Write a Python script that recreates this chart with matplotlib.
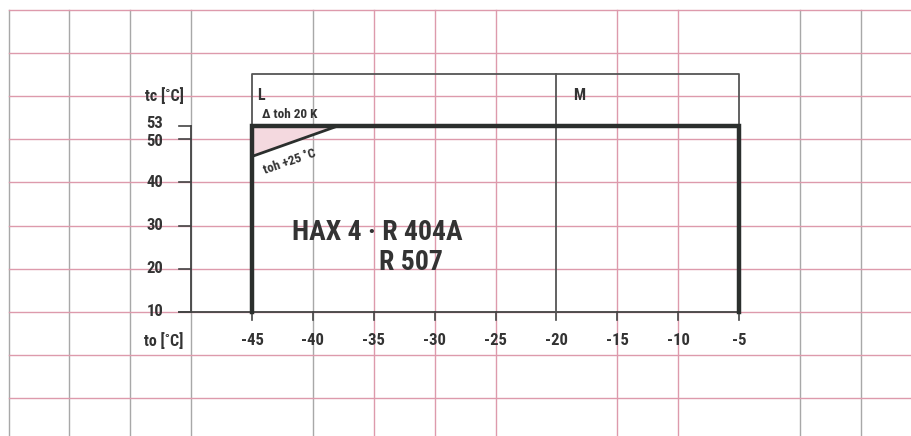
import matplotlib
matplotlib.use("Agg")
import matplotlib.pyplot as plt
from matplotlib import font_manager

# application envelope (evaporating temp to, condensing temp tc)
env_to = [-45, -45, -5, -5]
env_tc = [10, 53, 53, 10]

# superheat limit triangle (toh +25 C)
toh_to = [-45, -45, -38]
toh_tc = [53, 46, 53]

# L / M ranges
box_top = 65
range_split = -20
range_labels = ["L", "M"]
range_label_x = [-44.6, -18.6]

x_ticks = [-45, -40, -35, -30, -25, -20, -15, -10, -5]
y_ticks = [10, 20, 30, 40, 50, 53]
y_tick_labels = ["10", "20", "30", "40", "50", "53"]

# background paper grid
grid_x_grey = [-65, -60, -55, -50, -40, 0, 5]
grid_x_pink = [-35, -30, -25, -15, -10]
grid_y = [80, 70, 60, 50, 40, 30, 20, 10, 0, -10]

# narrow bold face, first one that is installed
names = {f.name for f in font_manager.fontManager.ttflist}
FONT = "DejaVu Sans"
for cand in ["Roboto Condensed", "Archivo Narrow", "PT Sans Narrow",
             "Encode Sans Condensed", "Encode Sans Semi Condensed",
             "Saira SemiCondensed"]:
    if cand in names:
        FONT = cand
        break

ink = "#2b2f2d"
pink = "#dd9aac"
grey = "#a8a8a8"
txt = dict(fontweight="bold", family=[FONT, "DejaVu Sans"], color="#333333")

fig = plt.figure(figsize=(9.12, 4.36), dpi=100)
ax = fig.add_axes([0, 0, 1, 1])
ax.set_xlim(-65.7, 9.2)
ax.set_ylim(-18.7, 82.2)
ax.axis("off")

# paper grid
for gx in grid_x_grey:
    ax.plot([gx, gx], [-18.7, 80], color=grey, lw=1.0, zorder=1)
for gx in grid_x_pink:
    ax.plot([gx, gx], [-18.7, 80], color=pink, lw=1.0, zorder=1)
for gy in grid_y:
    ax.plot([-65, 9.2], [gy, gy], color=pink, lw=1.0, zorder=1)

# axes lines
ax.plot([-51, -5], [10, 10], color="#444444", lw=1.3, zorder=3)
ax.plot([-50, -50], [10, 53], color="#444444", lw=1.3, zorder=3)
for xt in x_ticks:
    ax.plot([xt, xt], [10, 8.2], color="#444444", lw=1.2, zorder=3)
    ax.text(xt, 3.5, str(xt), ha="center", va="center", fontsize=12, **txt)
for yt, yl in zip(y_ticks, y_tick_labels):
    ax.plot([-51, -50], [yt, yt], color="#444444", lw=1.2, zorder=3)
    dy = 0.6 if yt == 53 else (-0.6 if yt == 50 else 0)
    ax.text(-52.3, yt + dy, yl, ha="right", va="center", fontsize=12, **txt)

ax.text(-50.6, 60, "tc [˚C]", ha="right", va="center", fontsize=11.5, **txt)
ax.text(-50.6, 3.5, "to [˚C]", ha="right", va="center", fontsize=11.5, **txt)

# L / M box
ax.plot([-45, -45, -5, -5], [53, box_top, box_top, 53], color="#555555", lw=1.3, zorder=3)
ax.plot([range_split, range_split], [10, box_top], color="#555555", lw=1.3, zorder=3)
for lx, lb in zip(range_label_x, range_labels):
    ax.text(lx, 60, lb, ha="left", va="center", fontsize=11.5, **txt)

# superheat triangle
ax.fill(toh_to, toh_tc, color="#f4d9df", zorder=2)
ax.plot(toh_to[1:], toh_tc[1:], color=ink, lw=2.0, zorder=4)
ax.text(-44.2, 55.8, "Δ toh 20 K", ha="left", va="center", fontsize=9.5, **txt)
ax.text(-44.0, 42.8, "toh +25 ˚C", ha="left", va="center", fontsize=9.5,
        rotation=19, rotation_mode="anchor", **txt)

# envelope
ax.plot(env_to, env_tc, color=ink, lw=3.2, solid_joinstyle="miter", zorder=5)

ax.text(-41.7, 28.5, "HAX 4 · R 404A", ha="left", va="center", fontsize=20, **txt)
ax.text(-34.6, 21.4, "R 507", ha="left", va="center", fontsize=20, **txt)

fig.savefig("out.png", dpi=100)
